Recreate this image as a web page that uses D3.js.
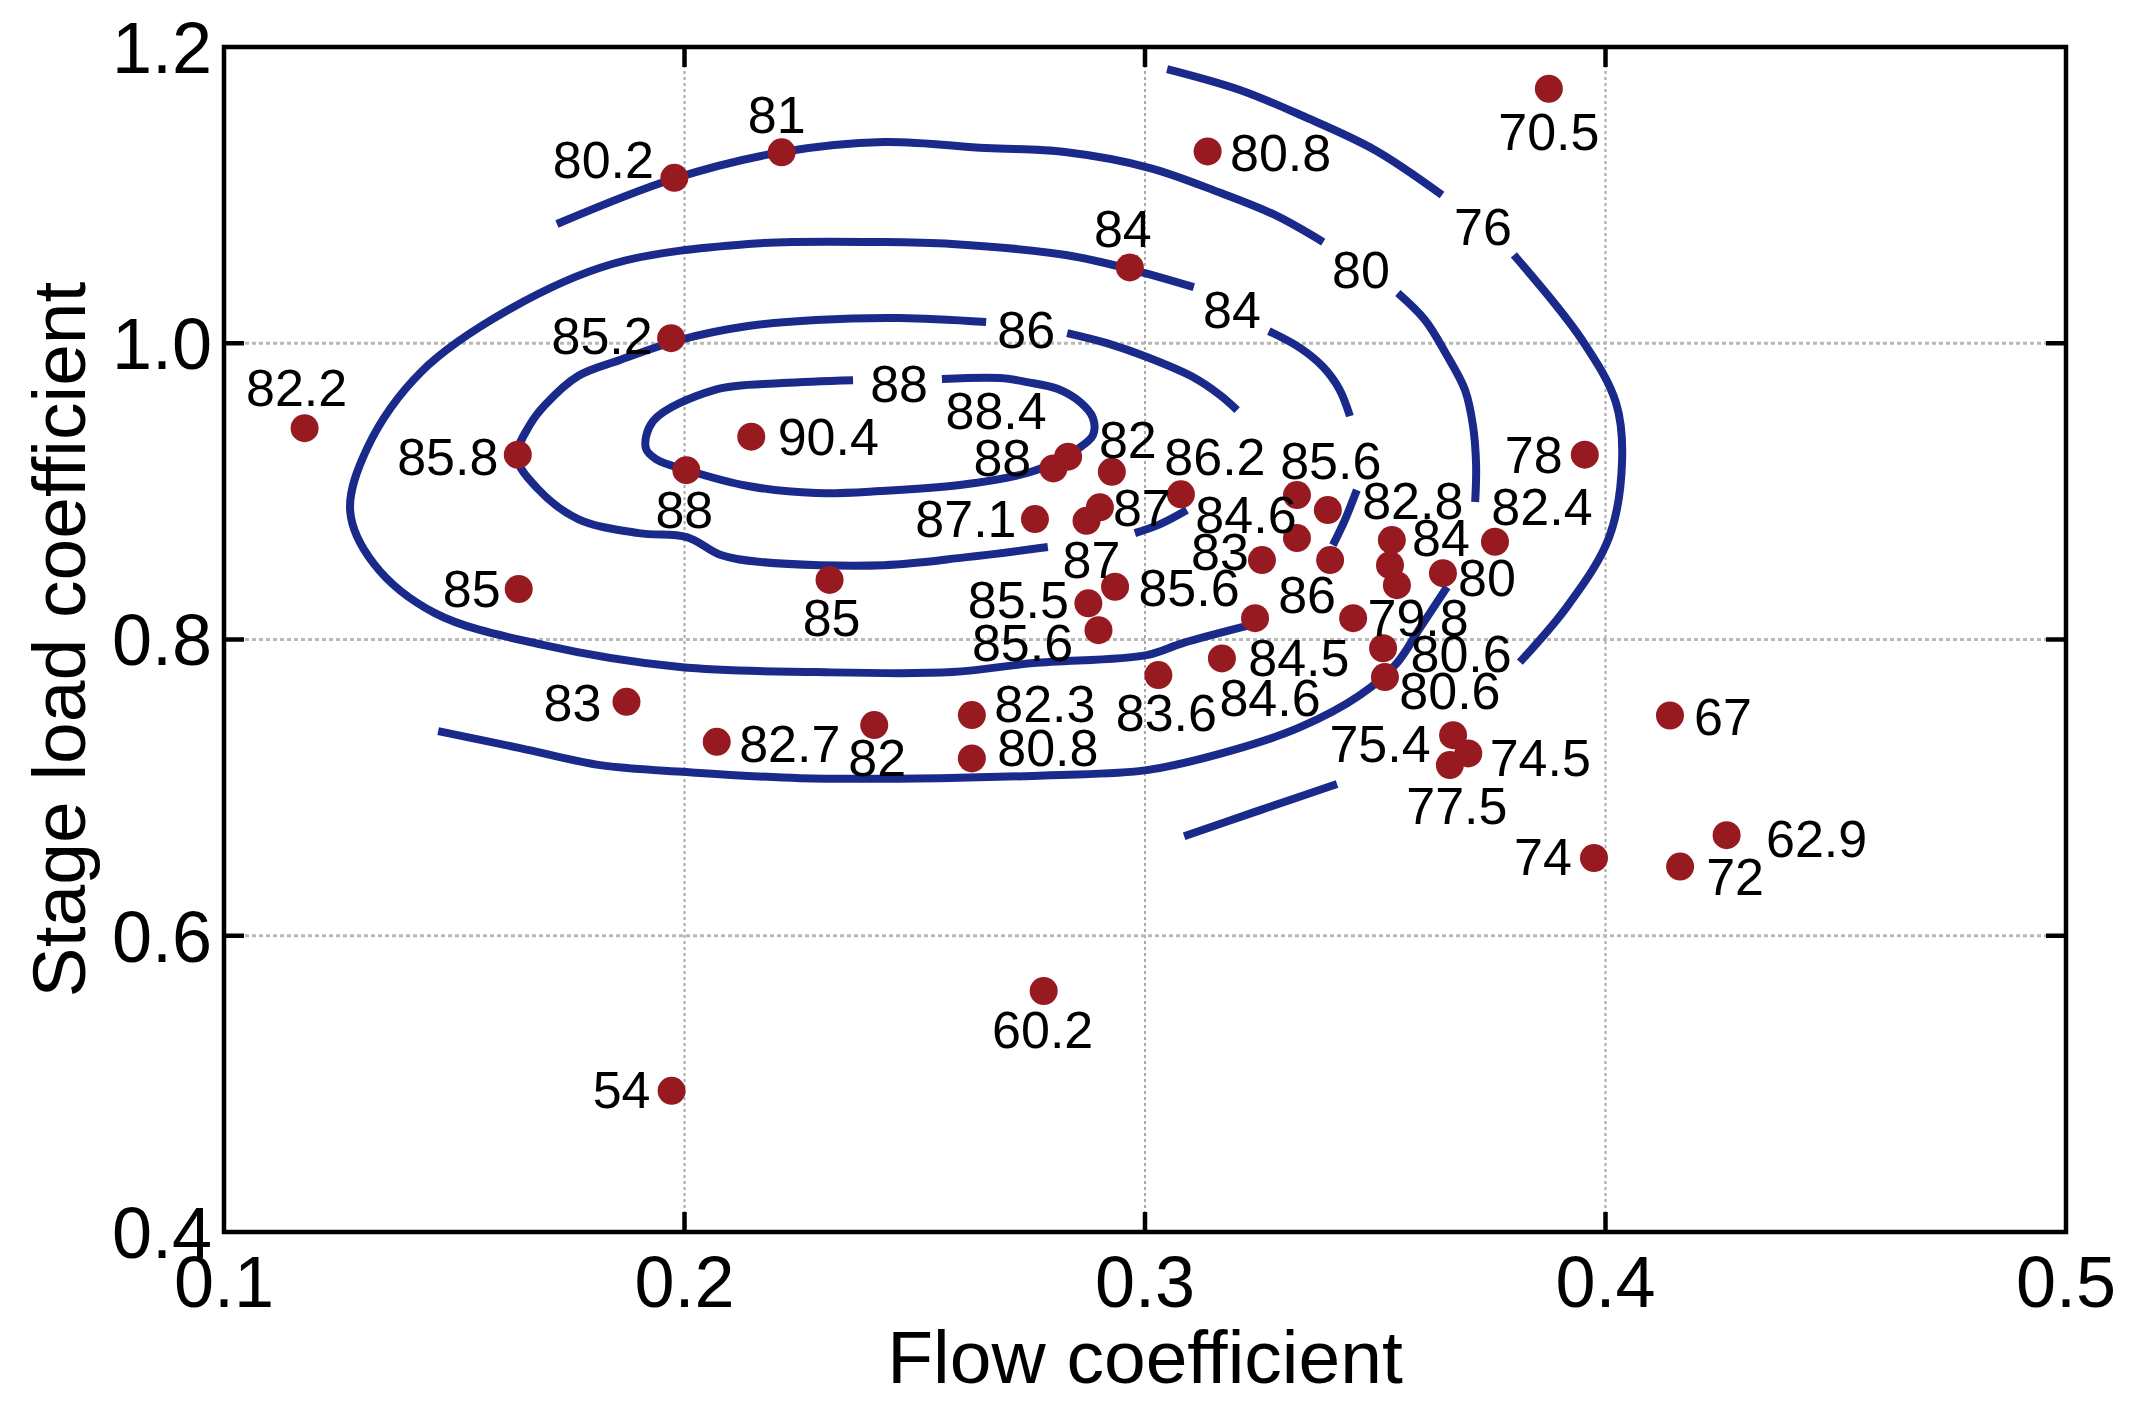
<!DOCTYPE html>
<html>
<head>
<meta charset="utf-8">
<script src="https://cdn.jsdelivr.net/npm/d3@7/dist/d3.min.js"></script>
<style>
  html, body { margin: 0; padding: 0; background: #fff; }
  svg { display: block; }
  text { font-family: "Liberation Sans", Arial, Helvetica, sans-serif; fill: #000; }
</style>
</head>
<body>
<svg id="chart" width="2131" height="1404"></svg>
<script>
// ---------------- data ----------------
const flowCoef = [
  0.1175, 0.1978, 0.2211, 0.1971, 0.1638, 0.2004, 0.2145, 0.1640, 0.2315, 0.1874,
  0.2070, 0.2412, 0.2624, 0.2624, 0.1972, 0.2780, 0.3136, 0.3877, 0.2967, 0.3955,
  0.3760, 0.4140, 0.3702, 0.3669, 0.3662, 0.3975, 0.4162, 0.4263,
  0.2801, 0.2833, 0.2928, 0.3078, 0.2761, 0.2902, 0.2873, 0.2935, 0.2877, 0.2899,
  0.3029, 0.3167, 0.3330, 0.3397, 0.3330, 0.3254, 0.3402, 0.3239, 0.3536, 0.3532,
  0.3547, 0.3647, 0.3452, 0.3517, 0.3521
];
const loadCoef = [
  0.9427, 1.1117, 1.1289, 1.0034, 0.9248, 0.9143, 0.9369, 0.8341, 0.8402, 0.7579,
  0.7309, 0.7422, 0.7490, 0.7197, 0.4953, 0.5627, 1.1295, 1.1718, 1.0512, 0.9248,
  0.8660, 0.7487, 0.7231, 0.7354, 0.7152, 0.6525, 0.6467, 0.6679,
  0.9155, 0.9234, 0.9132, 0.8980, 0.8813, 0.8892, 0.8801, 0.8356, 0.8244, 0.8063,
  0.7760, 0.7872, 0.8975, 0.8874, 0.8685, 0.8536, 0.8536, 0.8144, 0.8671, 0.8502,
  0.8367, 0.8448, 0.8144, 0.7941, 0.7746
];
const efficiency = [
  "82.2", "80.2", "81", "85.2", "85.8", "88", "90.4", "85", "85", "83",
  "82.7", "82", "82.3", "80.8", "54", "60.2", "80.8", "70.5", "84", "78",
  "82.4", "67", "74.5", "75.4", "77.5", "74", "72", "62.9",
  "88", "88.4", "82", "86.2", "87.1", "87", "87", "85.6", "85.5", "85.6",
  "83.6", "84.5", "84.6", "85.6", null, "83", "86", "84.6", "82.8", "84",
  null, "80", "79.8", "80.6", "80.6"
];
// label placement (pixel offsets of label centre from its point)
const labelDx = [
  -8, -71, -5, -69, -70, -2, 77, -47, 2, -54,
  73, 3, 73, 76, -50, -1, 73, 0, -7, -51,
  47, 53, 72, -73, 7, -51, 55, 90,
  -51, -72, 16, 34, -69, 42, 5, 74, -70, -76,
  8, 77, -51, 3, 0, -42, -23, 15, 21, 51,
  0, 44, 65, 78, 65
];
const labelDy = [
  -41, -19, -38, -3, 2, 39, 0, -1, 37, 0,
  1, 32, -12, -11, -2, 38, 1, 43, -39, 0,
  -35, 1, 4, 8, 40, -2, 10, 3,
  -11, -46, -33, -38, -1, 0, 38, 1, -4, 12,
  37, -1, 19, -50, 0, -9, 34, 79, -40, -28,
  0, 4, -1, 5, 13
];

// efficiency contour lines [flow coefficient, stage load coefficient]
const contour88 = [
  [0.2559,0.9758],[0.2685,0.9765],[0.2744,0.9738],[0.2811,0.9691],[0.2859,0.9603],
  [0.2887,0.9495],[0.2887,0.9380],[0.2854,0.9286],[0.2815,0.9211],[0.2744,0.9124],
  [0.2598,0.9043],[0.2425,0.9002],[0.2286,0.8989],[0.2138,0.9036],[0.2005,0.9144],
  [0.1938,0.9218],[0.1916,0.9292],[0.1932,0.9475],[0.2064,0.9684],[0.2212,0.9731],
  [0.2366,0.9751]
];
const contour86Right = [
  [0.2831,1.0069],[0.2917,1.0001],[0.3004,0.9907],[0.3104,0.9772],[0.3163,0.9650],[0.3200,0.9549]
];
const contour86Left = [
  [0.2655,1.0143],[0.2468,1.0170],[0.2286,1.0157],[0.2138,1.0116],[0.1990,1.0022],
  [0.1860,0.9887],[0.1769,0.9779],[0.1697,0.9583],[0.1664,0.9448],[0.1636,0.9232],
  [0.1680,0.9022],[0.1769,0.8813],[0.1901,0.8718],[0.2005,0.8691],[0.2079,0.8570],
  [0.2166,0.8523],[0.2433,0.8502],[0.2613,0.8556],[0.2789,0.8624]
];
const contour86Mid = [[0.2978,0.8718],[0.3033,0.8779],[0.3091,0.8874]];
const contour84Main = [
  [0.3106,1.0379],[0.2967,1.0501],[0.2828,1.0596],[0.2581,1.0670],[0.2433,1.0683],
  [0.2138,1.0670],[0.1843,1.0535],[0.1621,1.0231],[0.1428,0.9806],[0.1311,0.9292],
  [0.1274,0.8867],[0.1326,0.8509],[0.1458,0.8178],[0.1695,0.7962],[0.1990,0.7814],
  [0.2286,0.7780],[0.2581,0.7780],[0.2757,0.7841],[0.3004,0.7895],[0.3082,0.7976],
  [0.3228,0.8097]
];
const contour84RightUpper = [
  [0.3269,1.0082],[0.3337,0.9968],[0.3387,0.9839],[0.3423,0.9684],[0.3445,0.9508]
];
const contour84RightLower = [[0.3460,0.9009],[0.3434,0.8806],[0.3408,0.8637]];
const contour80Upper = [
  [0.3387,1.0683],[0.3282,1.0866],[0.3165,1.1014],[0.3011,1.1183],[0.2826,1.1291],
  [0.2655,1.1318],[0.2433,1.1359],[0.2212,1.1291],[0.1975,1.1109],[0.1723,1.0805]
];
const contour80Right = [
  [0.3549,1.0339],[0.3608,1.0157],[0.3654,0.9927],[0.3695,0.9684],[0.3712,0.9448],
  [0.3719,0.9178],[0.3717,0.8928]
];
const contour80Lower = [
  [0.1465,0.7381],[0.1643,0.7267],[0.1817,0.7152],[0.2005,0.7105],[0.2251,0.7064],
  [0.2555,0.7064],[0.2794,0.7084],[0.3004,0.7118],[0.3191,0.7253],[0.3337,0.7408],
  [0.3467,0.7625],[0.3547,0.7841],[0.3597,0.8077],[0.3656,0.8354]
];
const contour76Upper = [
  [0.3048,1.1851],[0.3206,1.1710],[0.3343,1.1534],[0.3499,1.1305],[0.3645,1.1001]
];
const contour76Right = [
  [0.3801,1.0596],[0.3949,1.0022],[0.4023,0.9596],[0.4036,0.9205],[0.4008,0.8691],
  [0.3919,0.8232],[0.3814,0.7847]
];
const contour76Lower = [[0.3085,0.6672],[0.3250,0.6848],[0.3417,0.7024]];

const contourLevels = ["88", "86", "84", "80", "76"];
const contourLabelFlow = [0.2466, 0.2742, 0.3189, 0.3469, 0.3734];
const contourLabelLoad = [0.9731, 1.0096, 1.0231, 1.0501, 1.0791];

const xTicks = [0.1, 0.2, 0.3, 0.4, 0.5];
const yTicks = [0.4, 0.6, 0.8, 1.0, 1.2];
const xTitle = "Flow coefficient";
const yTitle = "Stage load coefficient";

// ---------------- drawing ----------------
const svg = d3.select("#chart");
const L = 224, R = 2066, T = 47, B = 1232;
const x = d3.scaleLinear().domain([0.1, 0.5]).range([L, R]);
const y = d3.scaleLinear().domain([0.4, 1.2]).range([B, T]);

const lineColor = "#1a2a8a";
const dotColor = "#981a21";
const labelSize = 52;

// grid
const grid = svg.append("g");
grid.selectAll("line.vg").data(xTicks.slice(1, -1)).join("line")
  .attr("x1", d => x(d)).attr("x2", d => x(d)).attr("y1", T).attr("y2", B)
  .attr("stroke", "#a8a8a8").attr("stroke-width", 2).attr("stroke-dasharray", "3,3");
grid.selectAll("line.hg").data(yTicks.slice(1, -1)).join("line")
  .attr("x1", L).attr("x2", R).attr("y1", d => y(d)).attr("y2", d => y(d))
  .attr("stroke", "#b8b8b8").attr("stroke-width", 3).attr("stroke-dasharray", "4,3");

// contours
const line = d3.line().x(d => x(d[0])).y(d => y(d[1])).curve(d3.curveCatmullRom.alpha(0.5));
const contours = [contour88, contour86Right, contour86Left, contour86Mid,
  contour84Main, contour84RightUpper, contour84RightLower,
  contour80Upper, contour80Right, contour80Lower,
  contour76Upper, contour76Right, contour76Lower];
svg.append("g").selectAll("path").data(contours).join("path")
  .attr("d", line).attr("fill", "none").attr("stroke", lineColor)
  .attr("stroke-width", 8).attr("stroke-linecap", "butt").attr("stroke-linejoin", "round");

// contour labels
svg.append("g").selectAll("text").data(contourLevels).join("text")
  .attr("x", (d, i) => x(contourLabelFlow[i]))
  .attr("y", (d, i) => y(contourLabelLoad[i]) + 0.36 * labelSize)
  .attr("text-anchor", "middle").attr("font-size", labelSize)
  .text(d => d);

// points
const pts = flowCoef.map((f, i) => ({ f, l: loadCoef[i], e: efficiency[i], dx: labelDx[i], dy: labelDy[i] }));
svg.append("g").selectAll("circle").data(pts).join("circle")
  .attr("cx", d => x(d.f)).attr("cy", d => y(d.l)).attr("r", 14)
  .attr("fill", dotColor);

svg.append("g").selectAll("text").data(pts.filter(d => d.e !== null)).join("text")
  .attr("x", d => x(d.f) + d.dx)
  .attr("y", d => y(d.l) + d.dy + 0.36 * labelSize)
  .attr("text-anchor", "middle").attr("font-size", labelSize)
  .text(d => d.e);

// frame
svg.append("rect").attr("x", L).attr("y", T).attr("width", R - L).attr("height", B - T)
  .attr("fill", "none").attr("stroke", "#000").attr("stroke-width", 4.5);

// ticks (inward, all four sides)
const tk = svg.append("g").attr("stroke", "#000").attr("stroke-width", 4.5);
xTicks.slice(1, -1).forEach(v => {
  tk.append("line").attr("x1", x(v)).attr("x2", x(v)).attr("y1", B).attr("y2", B - 20);
  tk.append("line").attr("x1", x(v)).attr("x2", x(v)).attr("y1", T).attr("y2", T + 20);
});
yTicks.slice(1, -1).forEach(v => {
  tk.append("line").attr("x1", L).attr("x2", L + 20).attr("y1", y(v)).attr("y2", y(v));
  tk.append("line").attr("x1", R).attr("x2", R - 20).attr("y1", y(v)).attr("y2", y(v));
});

// tick labels
const tickSize = 72;
svg.append("g").selectAll("text").data(xTicks).join("text")
  .attr("x", d => x(d)).attr("y", B + 75)
  .attr("text-anchor", "middle").attr("font-size", tickSize)
  .text(d => d3.format(".1f")(d));
svg.append("g").selectAll("text").data(yTicks).join("text")
  .attr("x", L - 12).attr("y", d => y(d) + 0.36 * tickSize)
  .attr("text-anchor", "end").attr("font-size", tickSize)
  .text(d => d3.format(".1f")(d));

// axis titles
svg.append("text").attr("x", (L + R) / 2).attr("y", 1383)
  .attr("text-anchor", "middle").attr("font-size", 75).text(xTitle);
svg.append("text").attr("transform", `translate(85, ${(T + B) / 2}) rotate(-90)`)
  .attr("text-anchor", "middle").attr("font-size", 75).text(yTitle);
</script>
</body>
</html>
